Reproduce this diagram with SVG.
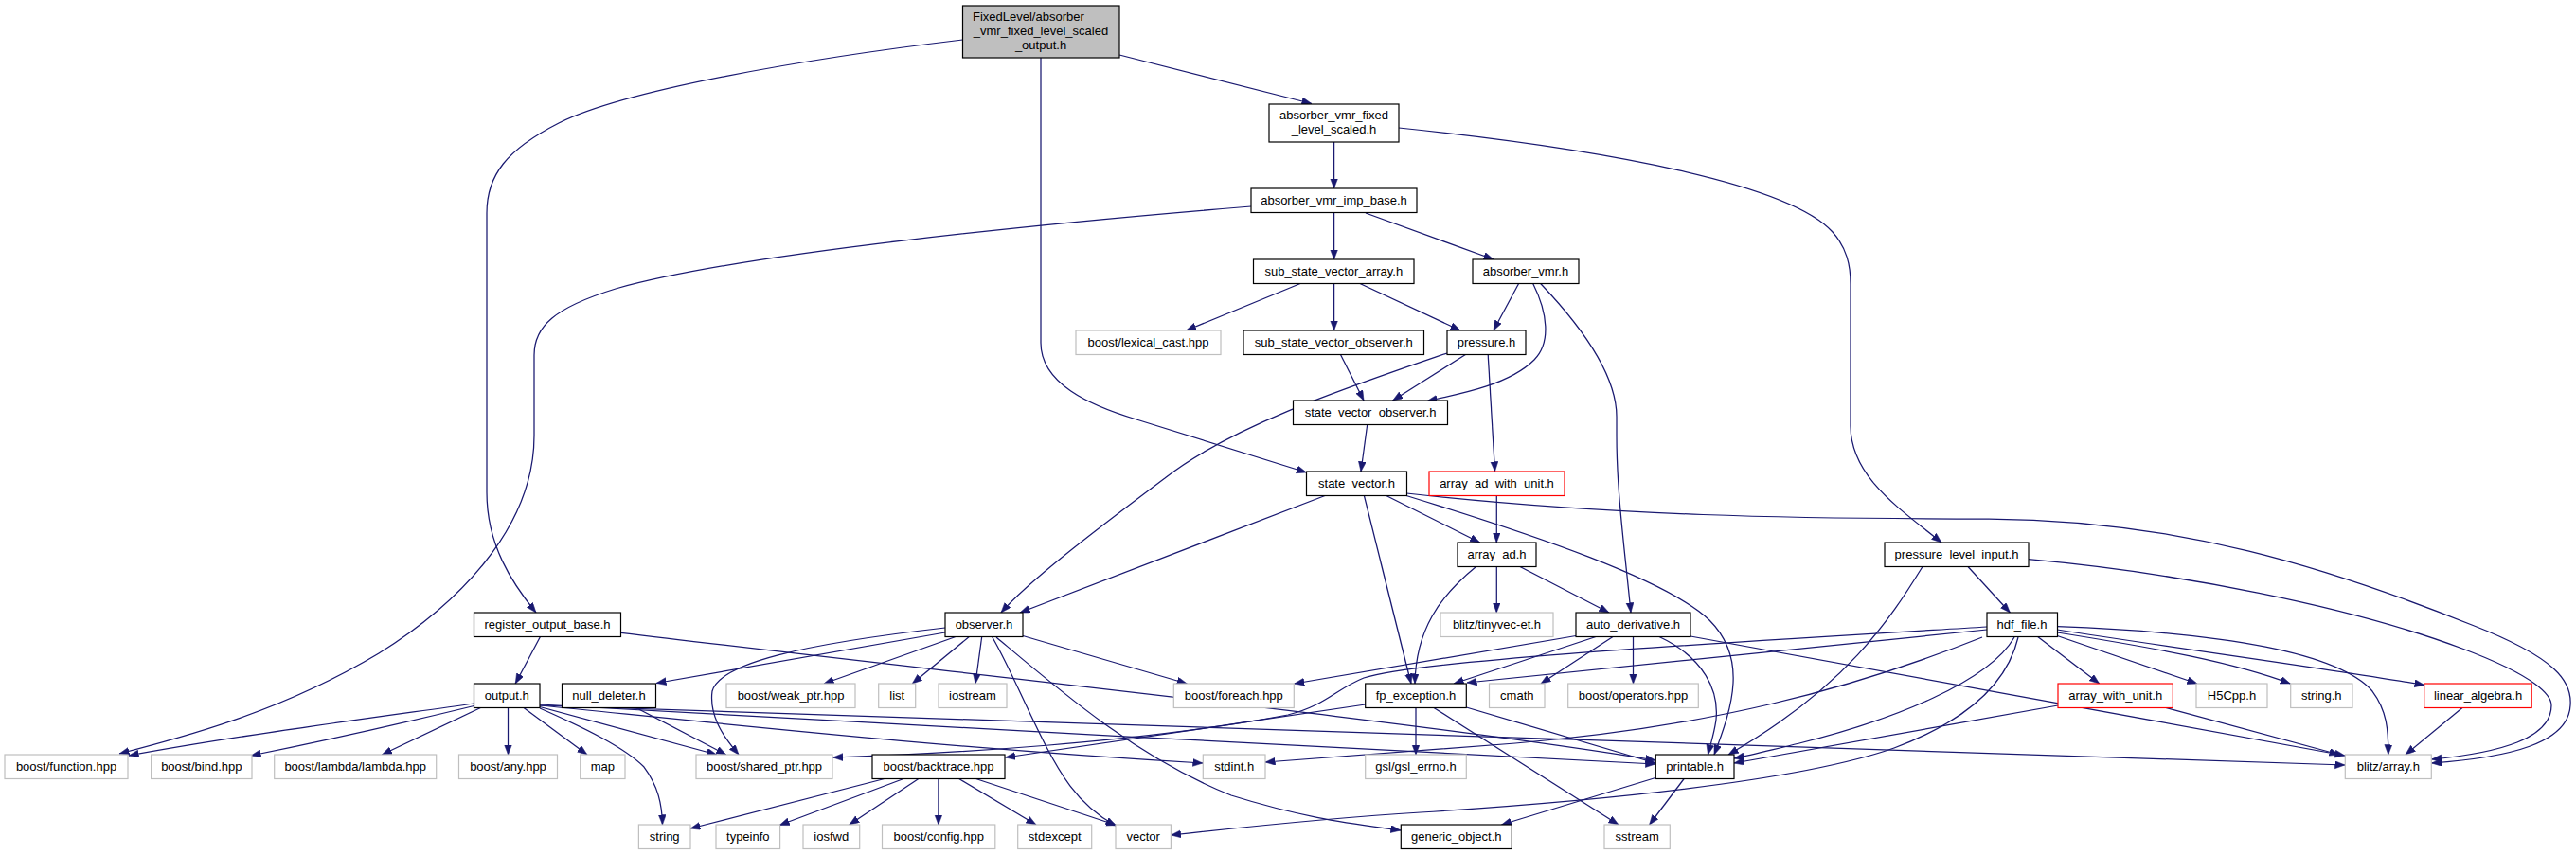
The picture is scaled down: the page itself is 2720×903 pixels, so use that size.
<svg xmlns="http://www.w3.org/2000/svg" width="2720" height="903" viewBox="0 0 2720 903">
<style>
text{font-family:"Liberation Sans",Arial,sans-serif;font-size:13px;fill:#000;text-anchor:middle}
.b{fill:#fff;stroke:#000;stroke-width:1.2}
.g{fill:#fff;stroke:#bfbfbf;stroke-width:1.2}
.r{fill:#fff;stroke:#ff0000;stroke-width:1.2}
.root{fill:#bfbfbf;stroke:#000;stroke-width:1.2}
#edges path{fill:none;stroke:#191970;stroke-width:1.25;marker-end:url(#ah)}
</style>
<defs>
<marker id="ah" markerUnits="userSpaceOnUse" markerWidth="11" markerHeight="9" refX="10.5" refY="4" orient="auto">
<path d="M0,0 L10.5,4 L0,8 z" fill="#191970" stroke="#191970" stroke-width="0.5"/>
</marker>
</defs>
<rect width="2720" height="903" fill="#fff"/>
<g id="edges">
<path d="M1182,58 L1385,109.5"/>
<path d="M1016.5,42 C850,62 660,95 590,130 C535,158 514,185 514,225 L514,520 C514,575 540,615 566,647"/>
<path d="M1099,61 L1099,362 C1099,405 1150,428 1200,443 L1379.5,499"/>
<path d="M1408.6,150 L1408.6,199"/>
<path d="M1477,135 C1700,158 1890,195 1935,245 C1950,262 1954,280 1954,300 L1954,450 C1954,505 2010,540 2050,573"/>
<path d="M1408.6,224.5 L1408.6,274"/>
<path d="M1442,225 L1577,274"/>
<path d="M1321,218 C1100,236 780,268 650,305 C585,325 564,345 564,375 L564,460 C564,560 480,640 400,690 C300,750 200,777 126,796"/>
<path d="M1373,299.5 L1252.5,349"/>
<path d="M1408.6,299.5 L1408.6,349"/>
<path d="M1436,299.5 L1542,349"/>
<path d="M1603.6,299.5 L1577,349"/>
<path d="M1618.7,299.5 C1634,330 1638,362 1620,380 C1595,405 1548,415 1507,423.5"/>
<path d="M1626.7,299.5 C1670,345 1707,395 1707,440 L1707,460 C1707,520 1716,585 1722,647"/>
<path d="M1415.5,374.5 L1440,423"/>
<path d="M1547.4,374.5 L1470.6,423"/>
<path d="M1528,373 C1420,410 1300,450 1230,505 C1150,565 1085,615 1057,647"/>
<path d="M1571.2,374.5 L1578.5,498"/>
<path d="M1443.7,448.5 L1437,498"/>
<path d="M1399,523.5 L1077,647"/>
<path d="M1463.8,523.5 L1562.6,573"/>
<path d="M1440.4,523.5 L1490,722"/>
<path d="M1485,523.5 C1620,565 1760,612 1805,655 C1845,695 1830,745 1810,797"/>
<path d="M1485.3,521 C1700,545 1900,548 2100,548 C2300,549 2460,600 2610,660 C2700,695 2716,720 2714,745 C2712,785 2650,800 2567.5,806"/>
<path d="M1580.3,523.5 L1580.3,573"/>
<path d="M1558.5,598.5 C1520,630 1495,665 1494,722"/>
<path d="M1580.3,598.5 L1580.3,647"/>
<path d="M1605,598.5 L1699,647"/>
<path d="M1664,671.5 L1366.7,722"/>
<path d="M1685,672.5 L1535,722"/>
<path d="M1703,672.5 L1627,722"/>
<path d="M1724.5,672.5 L1724.5,722"/>
<path d="M1752,672.5 C1800,695 1815,730 1812,760 C1810,775 1806,786 1803.5,797"/>
<path d="M1785,672 L2476,798"/>
<path d="M1495,747.5 L1495,797"/>
<path d="M1548.3,747 L1748,806"/>
<path d="M1514,747.5 L1709,871"/>
<path d="M1441.7,744 C1320,762 1150,787 1061.5,800"/>
<path d="M1748,821.5 L1585.5,871"/>
<path d="M1778.5,822 L1741.6,871"/>
<path d="M2078,598.5 L2122.4,647"/>
<path d="M2030,598.5 C1995,655 1950,725 1825,797"/>
<path d="M2142,590.7 C2300,605 2480,640 2600,685 C2680,715 2694,735 2694,745 C2694,780 2640,795 2567.5,802"/>
<path d="M2098,662 C1800,680 1500,697 1440,716 C1410,728 1400,745 1360,755 C1200,785 1000,796 879.5,800"/>
<path d="M2098,665 L1549,721"/>
<path d="M2127,673 C2100,720 2000,760 1900,785 C1870,792 1852,797 1831,801"/>
<path d="M2151.7,672.5 L2216.7,722"/>
<path d="M2172.3,671.5 L2320,722"/>
<path d="M2172.3,668 C2280,685 2360,700 2418.3,722"/>
<path d="M2172.3,665 C2300,685 2450,705 2560,723.5"/>
<path d="M2172.3,661.7 C2350,668 2470,690 2505,730 C2520,750 2522,770 2521.8,797"/>
<path d="M2131,673 C2120,720 2080,760 2000,790 C1900,825 1700,845 1500,858 C1400,864 1300,875 1236.4,882"/>
<path d="M2093,673 C1950,730 1800,768 1600,785 C1500,793 1400,800 1336,805"/>
<path d="M2173,745 L1831,806"/>
<path d="M2286.7,747.3 L2470,797"/>
<path d="M2600,747.5 L2540,797"/>
<path d="M998,668 L693,721.5"/>
<path d="M998,663 C850,680 760,700 752,730 C748,760 770,785 780,797"/>
<path d="M1009,672.5 L870,722"/>
<path d="M1023.3,672.5 L963.3,722"/>
<path d="M1036.7,672.5 L1030,722"/>
<path d="M1080,671.5 L1253.3,722"/>
<path d="M1047.7,672.7 C1075,720 1100,790 1130,830 C1145,850 1160,862 1178,872"/>
<path d="M1052,673 C1120,730 1200,800 1300,840 C1380,865 1430,870 1479,877"/>
<path d="M671.7,747.5 L766.7,797"/>
<path d="M570.3,672.7 L544.2,722"/>
<path d="M655.7,668.3 C1000,710 1500,762 1748,803"/>
<path d="M500.5,743 C380,760 250,777 136,798"/>
<path d="M500.5,745.5 C420,765 330,785 265,798"/>
<path d="M507.4,747.5 L403.4,797"/>
<path d="M536.5,747.5 L536.5,797"/>
<path d="M553,747.5 L620,797"/>
<path d="M570,748 C620,770 660,790 680,810 C695,830 699,850 699.5,871"/>
<path d="M570,746.5 L756.7,797"/>
<path d="M570,745 C800,768 1000,790 1270,806"/>
<path d="M570,744 C900,762 1400,790 1748,807"/>
<path d="M570,745 C1000,765 1600,785 2476,808"/>
<path d="M935.8,822 L729,875"/>
<path d="M955.4,822 L823.1,871.5"/>
<path d="M970.6,822 L896.8,871"/>
<path d="M990.9,822 L990.9,871"/>
<path d="M1011.8,822 L1094,871"/>
<path d="M1029,822 L1178.7,871.5"/>
</g>
<g id="n_root"><rect class="root" x="1016.5" y="6" width="165.5" height="55"/><text x="1027" y="21.5" style="text-anchor:start">FixedLevel/absorber</text><text x="1099" y="36.5">_vmr_fixed_level_scaled</text><text x="1099" y="51.5">_output.h</text></g>
<g id="n_avfls"><rect class="b" x="1340" y="110" width="137" height="40"/><text x="1408.5" y="126">absorber_vmr_fixed</text><text x="1408.5" y="141">_level_scaled.h</text></g>
<g id="n_avib"><rect class="b" x="1321" y="199" width="175" height="25.5"/><text x="1408.5" y="216.3">absorber_vmr_imp_base.h</text></g>
<g id="n_ssva"><rect class="b" x="1323.5" y="274" width="169.5" height="25.5"/><text x="1408.3" y="291.3">sub_state_vector_array.h</text></g>
<g id="n_av"><rect class="b" x="1555" y="274" width="112" height="25.5"/><text x="1611" y="291.3">absorber_vmr.h</text></g>
<g id="n_lex"><rect class="g" x="1136" y="349" width="153" height="25.5"/><text x="1212.5" y="366.3">boost/lexical_cast.hpp</text></g>
<g id="n_ssvo"><rect class="b" x="1313" y="349" width="190.5" height="25.5"/><text x="1408.3" y="366.3">sub_state_vector_observer.h</text></g>
<g id="n_pressure"><rect class="b" x="1528" y="349" width="83" height="25.5"/><text x="1569.5" y="366.3">pressure.h</text></g>
<g id="n_svo"><rect class="b" x="1365.5" y="423" width="163" height="25.5"/><text x="1447" y="440.3">state_vector_observer.h</text></g>
<g id="n_sv"><rect class="b" x="1379.5" y="498" width="106" height="25.5"/><text x="1432.5" y="515.3">state_vector.h</text></g>
<g id="n_aadwu"><rect class="r" x="1509" y="498" width="143" height="25.5"/><text x="1580.5" y="515.3">array_ad_with_unit.h</text></g>
<g id="n_aad"><rect class="b" x="1539" y="573" width="83" height="25.5"/><text x="1580.5" y="590.3">array_ad.h</text></g>
<g id="n_pli"><rect class="b" x="1990" y="573" width="152" height="25.5"/><text x="2066" y="590.3">pressure_level_input.h</text></g>
<g id="n_rob"><rect class="b" x="500.5" y="647" width="155" height="25.5"/><text x="578" y="664.3">register_output_base.h</text></g>
<g id="n_obs"><rect class="b" x="998" y="647" width="82" height="25.5"/><text x="1039" y="664.3">observer.h</text></g>
<g id="n_tinyvec"><rect class="g" x="1521" y="647" width="119" height="25.5"/><text x="1580.5" y="664.3">blitz/tinyvec-et.h</text></g>
<g id="n_ad"><rect class="b" x="1664" y="647" width="121" height="25.5"/><text x="1724.5" y="664.3">auto_derivative.h</text></g>
<g id="n_hdf"><rect class="b" x="2098" y="647" width="74.5" height="25.5"/><text x="2135" y="664.3">hdf_file.h</text></g>
<g id="n_output"><rect class="b" x="500.5" y="722" width="69.5" height="25.5"/><text x="535.3" y="739.3">output.h</text></g>
<g id="n_null"><rect class="b" x="593.5" y="722" width="99" height="25.5"/><text x="643" y="739.3">null_deleter.h</text></g>
<g id="n_weak"><rect class="g" x="767" y="722" width="136" height="25.5"/><text x="835" y="739.3">boost/weak_ptr.hpp</text></g>
<g id="n_list"><rect class="g" x="927.7" y="722" width="39" height="25.5"/><text x="947.2" y="739.3">list</text></g>
<g id="n_iostream"><rect class="g" x="991" y="722" width="72" height="25.5"/><text x="1027" y="739.3">iostream</text></g>
<g id="n_foreach"><rect class="g" x="1239.3" y="722" width="127" height="25.5"/><text x="1302.8" y="739.3">boost/foreach.hpp</text></g>
<g id="n_fpe"><rect class="b" x="1441.7" y="722" width="106.6" height="25.5"/><text x="1495" y="739.3">fp_exception.h</text></g>
<g id="n_cmath"><rect class="g" x="1572.5" y="722" width="58.5" height="25.5"/><text x="1601.8" y="739.3">cmath</text></g>
<g id="n_ops"><rect class="g" x="1655.7" y="722" width="137.6" height="25.5"/><text x="1724.5" y="739.3">boost/operators.hpp</text></g>
<g id="n_awu"><rect class="r" x="2173" y="722" width="121.3" height="25.5"/><text x="2233.7" y="739.3">array_with_unit.h</text></g>
<g id="n_h5"><rect class="g" x="2319" y="722" width="75" height="25.5"/><text x="2356.5" y="739.3">H5Cpp.h</text></g>
<g id="n_stringh"><rect class="g" x="2418.7" y="722" width="65.3" height="25.5"/><text x="2451.3" y="739.3">string.h</text></g>
<g id="n_linalg"><rect class="r" x="2559.7" y="722" width="113.5" height="25.5"/><text x="2616.5" y="739.3">linear_algebra.h</text></g>
<g id="n_func"><rect class="g" x="5" y="797" width="130" height="25.5"/><text x="70" y="814.3">boost/function.hpp</text></g>
<g id="n_bind"><rect class="g" x="159.6" y="797" width="106.4" height="25.5"/><text x="212.8" y="814.3">boost/bind.hpp</text></g>
<g id="n_lambda"><rect class="g" x="289.7" y="797" width="171" height="25.5"/><text x="375.2" y="814.3">boost/lambda/lambda.hpp</text></g>
<g id="n_any"><rect class="g" x="484.5" y="797" width="104" height="25.5"/><text x="536.5" y="814.3">boost/any.hpp</text></g>
<g id="n_map"><rect class="g" x="612.7" y="797" width="47.3" height="25.5"/><text x="636.3" y="814.3">map</text></g>
<g id="n_shared"><rect class="g" x="735" y="797" width="144" height="25.5"/><text x="807" y="814.3">boost/shared_ptr.hpp</text></g>
<g id="n_bt"><rect class="b" x="921" y="797" width="140" height="25.5"/><text x="991" y="814.3">boost/backtrace.hpp</text></g>
<g id="n_stdint"><rect class="g" x="1270.3" y="797" width="65.7" height="25.5"/><text x="1303.2" y="814.3">stdint.h</text></g>
<g id="n_gsl"><rect class="g" x="1441.7" y="797" width="106.6" height="25.5"/><text x="1495" y="814.3">gsl/gsl_errno.h</text></g>
<g id="n_printable"><rect class="b" x="1748.3" y="797" width="82.7" height="25.5"/><text x="1789.7" y="814.3">printable.h</text></g>
<g id="n_blitz"><rect class="g" x="2476.3" y="797" width="91" height="25.5"/><text x="2521.8" y="814.3">blitz/array.h</text></g>
<g id="n_string"><rect class="g" x="674.4" y="871" width="54.6" height="25.5"/><text x="701.7" y="888.3">string</text></g>
<g id="n_typeinfo"><rect class="g" x="756" y="871" width="67.6" height="25.5"/><text x="789.8" y="888.3">typeinfo</text></g>
<g id="n_iosfwd"><rect class="g" x="848" y="871" width="59.7" height="25.5"/><text x="877.8" y="888.3">iosfwd</text></g>
<g id="n_config"><rect class="g" x="931.5" y="871" width="119.3" height="25.5"/><text x="991.2" y="888.3">boost/config.hpp</text></g>
<g id="n_stdexcept"><rect class="g" x="1074.7" y="871" width="78" height="25.5"/><text x="1113.7" y="888.3">stdexcept</text></g>
<g id="n_vector"><rect class="g" x="1178" y="871" width="58.4" height="25.5"/><text x="1207.2" y="888.3">vector</text></g>
<g id="n_generic"><rect class="b" x="1479.3" y="871" width="117" height="25.5"/><text x="1537.8" y="888.3">generic_object.h</text></g>
<g id="n_sstream"><rect class="g" x="1694" y="871" width="69.3" height="25.5"/><text x="1728.7" y="888.3">sstream</text></g>
</svg>
